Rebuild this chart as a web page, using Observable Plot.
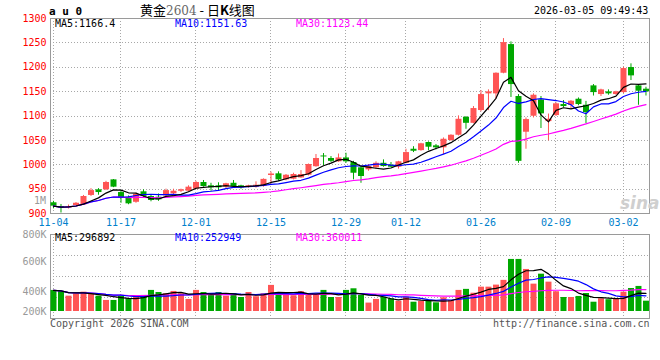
<!DOCTYPE html>
<html><head><meta charset="utf-8">
<script src="https://cdn.jsdelivr.net/npm/d3@7"></script>
<script src="https://cdn.jsdelivr.net/npm/@observablehq/plot@0.6"></script>
<style>
body{margin:0;background:#fff;}
#wrap{position:relative;width:660px;height:360px;overflow:hidden;font-family:"DejaVu Sans Mono",monospace;font-size:10px;}
#wrap svg{position:absolute;left:0;top:0;}
.t{position:absolute;white-space:nowrap;line-height:10px;height:10px;}
</style></head><body><div id="wrap"></div>
<script>
// ---- data ----
const openP  = [922,914.4,911.3,916.4,917.8,937,948.6,948.6,969,943,933.4,923,944.5,934.9,933.4,936,940.4,945.7,945.7,950,
                963.6,956.8,956.8,954,962,956.8,954,954,955.4,978,981.4,969,970.3,973,978.5,996,1018,1012.8,1006,1014,
                1004.6,993.7,989.6,993.7,1003,999,995,1003,1031.8,1029,1045.6,1038.8,1034.7,1049.7,1060.5,1097.5,1085,1111.2,1145.4,1145.4,
                1187.7,1246.5,1140,1066.7,1099.5,1133,1088.5,1100.9,1123.5,1122,1134.4,1122,1161.8,1144,1149.5,1144,1148,1199.4,1161.8,1155];
const highP  = [925,918.5,917.4,922.5,937,951,951,966,969.7,947,936,941.6,948.6,937.5,940,950,949.8,950,956.8,966,
                967.7,962,963,962,967.7,958,958,965,971,985,985.5,980,982.6,988,1001.5,1021,1023,1016.8,1022,1023.6,
                1007,995,1000.5,1006,1010,1004.6,1007,1031.8,1037,1044,1047,1041.5,1055,1061.5,1100.3,1098.5,1119.4,1152.2,1153.6,1188.5,
                1258.8,1252,1144,1096,1145.4,1140,1104,1127,1131.7,1131.7,1137,1130,1164.5,1155,1153.6,1150.8,1200,1207,1164.5,1159];
const lowP   = [909.6,901,909.2,915.8,916.4,935,937.5,947,953,921,918,921,932,924,925,934,939,943,944,949,
                954,945.7,946,951,954,950,952,952,954,960,966,967,969,972,977,995,998,1004.6,1005,1003,
                969,962,986.7,991,995,993.7,991,1002,1025,1027.7,1029,1030.5,1021,1048,1059,1072.8,1084,1108.5,1111,1134.4,
                1186.6,1138,1003,1031.8,1096,1074.3,1049,1099,1116.7,1113.9,1121,1084,1141,1140,1142.6,1142.6,1146,1172.7,1122,1141];
const closeP = [915,911.3,914.4,921,934.9,947,943,963.6,954,932,919.8,939,935,926.7,928,947,945.7,948.6,954,963.6,
                955.4,952.7,952.7,961,955.4,952.7,956.8,958,970,981,969,978.5,980,980,1000.5,1012.8,1016,1007,1014,1006,
                982.6,975.9,996.4,1003,996.4,995,1006,1025,1027.7,1043,1036,1034.7,1052.3,1060.5,1093.3,1085,1115.3,1144,1149.5,1187.7,
                1250.6,1164.5,1007,1092.7,1142.6,1104.4,1093.3,1125,1119.4,1130.3,1123.5,1107,1148,1153.6,1145.4,1149.5,1197.3,1182.3,1150.8,1149.5];
const volume = [406800,400000,368000,384000,395000,380000,368000,339000,339000,366000,350500,361000,373000,407000,393000,384000,400000,384000,346000,407000,
                393000,378000,393000,368000,386000,359000,393000,364000,384000,441000,386000,382000,371000,398000,380000,380000,407000,359000,359000,407000,
                418000,373000,321000,346000,361000,350500,334000,361000,327000,332000,334000,323000,357000,339000,407000,414000,388000,429000,429000,443000,
                475000,617000,617000,549000,449500,517000,463000,398000,359000,359000,366000,386000,327000,350500,344000,348000,395000,420000,434000,334000];
const dateTickIdx    = [0, 9, 19, 29, 39, 47, 57, 67, 76];
const dateTickLabels = ["11-04","11-17","12-01","12-15","12-29","01-12","01-26","02-09","03-02"];
const priceTicks = [900, 950, 1000, 1050, 1100, 1150, 1200, 1250, 1300];
const volTicks   = [800000, 600000, 400000, 200000];

// ---- table ----
const RED = "#ff5555", GREEN = "#00a800", GRID = "#a8a8a8", BORDER = "#9a9a9a";
const rows = closeP.map((c, i) => ({i, open: openP[i], high: highP[i], low: lowP[i], close: c, vol: volume[i],
  color: c >= openP[i] ? RED : GREEN}));

const W = 660, H = 360, ML = 50, MR = 11;
const xDomain = [-0.4, 79.47];
const baseStyle = {fontFamily: "DejaVu Sans Mono, monospace", fontSize: "10px", background: "transparent", overflow: "visible"};
const dotted = {stroke: GRID, strokeOpacity: 1, strokeDasharray: "1,2", shapeRendering: "crispEdges"};
const frameOpts = {stroke: BORDER, strokeWidth: 1.5, shapeRendering: "crispEdges"};
const tickFmt = d => dateTickLabels[dateTickIdx.indexOf(d)];

// volume quarter grid (behind)
const volGrid = Plot.plot({
  width: W, height: H, marginTop: 234, marginBottom: 42, marginLeft: ML, marginRight: MR,
  style: baseStyle, x: {domain: xDomain, axis: null, label: null}, y: {domain: [0, 4], axis: null, label: null},
  marks: [Plot.gridY([1, 2, 3], dotted)]
});

// price panel
const main = Plot.plot({
  width: W, height: H, marginTop: 18, marginBottom: 147, marginLeft: ML, marginRight: MR,
  style: baseStyle, color: {type: "identity"},
  x: {domain: xDomain, axis: null, label: null}, y: {domain: [900, 1300], axis: null, label: null},
  marks: [
    Plot.gridY(priceTicks, dotted),
    Plot.gridX(dateTickIdx, dotted),
    Plot.frame(frameOpts),
    Plot.axisY(priceTicks, {tickSize: 0, tickPadding: 4, color: "#ff0000", fontSize: 10, label: null, tickFormat: d => String(d)}),
    Plot.axisX(dateTickIdx, {tickSize: 0, tickPadding: 5, color: "#0080cc", fontSize: 10, label: null, tickFormat: tickFmt}),
    Plot.ruleX(rows, {x: "i", y1: "low", y2: "high", stroke: "color", strokeWidth: 1}),
    Plot.ruleX(rows, {x: "i", y1: "open", y2: "close", stroke: "color", strokeWidth: 6}),
    Plot.lineY(rows, Plot.windowY({k: 30, anchor: "end", reduce: "mean"}, {x: "i", y: "close", stroke: "#ff00ff", strokeWidth: 1.2})),
    Plot.lineY(rows, Plot.windowY({k: 10, anchor: "end", reduce: "mean"}, {x: "i", y: "close", stroke: "#0000ff", strokeWidth: 1.2})),
    Plot.lineY(rows, Plot.windowY({k: 5, anchor: "end", reduce: "mean"}, {x: "i", y: "close", stroke: "#000000", strokeWidth: 1.2}))
  ]
});

// volume panel
const vol = Plot.plot({
  width: W, height: H, marginTop: 234, marginBottom: 42, marginLeft: ML, marginRight: MR,
  style: baseStyle, color: {type: "identity"},
  x: {domain: xDomain, axis: null, label: null},
  y: {domain: [264000, 786000], range: [311, 234], clamp: true, axis: null, label: null},
  marks: [
    Plot.gridX(dateTickIdx, dotted),
    Plot.frame(frameOpts),
    Plot.axisY(volTicks, {tickSize: 0, tickPadding: 4, color: "#999", fontSize: 10, label: null, tickFormat: d => d / 1000 + "K"}),
    Plot.ruleX(rows, {x: "i", y1: () => 0, y2: "vol", stroke: "color", strokeWidth: 6}),
    Plot.lineY(rows, Plot.windowY({k: 30, anchor: "end", reduce: "mean"}, {x: "i", y: "vol", stroke: "#ff00ff", strokeWidth: 1.2})),
    Plot.lineY(rows, Plot.windowY({k: 10, anchor: "end", reduce: "mean"}, {x: "i", y: "vol", stroke: "#0000ff", strokeWidth: 1.2})),
    Plot.lineY(rows, Plot.windowY({k: 5, anchor: "end", reduce: "mean"}, {x: "i", y: "vol", stroke: "#000000", strokeWidth: 1.2}))
  ]
});

const wrap = document.getElementById("wrap");
wrap.append(volGrid, main, vol);

// ---- text labels ----
function label(txt, left, top, css) {
  const d = document.createElement("div");
  d.className = "t"; d.textContent = txt;
  d.style.left = left + "px"; d.style.top = top + "px";
  Object.assign(d.style, css || {});
  wrap.appendChild(d); return d;
}
label("a u 0", 49, 7, {fontWeight: "bold", fontSize: "11px", color: "#000"});
const title = document.createElement("div");
title.className = "t";
title.style.left = "140px"; title.style.top = "3px"; title.style.height = "14px"; title.style.lineHeight = "14px";
title.style.fontFamily = '"Noto Sans CJK SC", sans-serif'; title.style.fontSize = "13px";
title.innerHTML = '黄金<span style="color:#666;font-family:\'DejaVu Serif\',serif;font-size:12px">2604</span> - 日<b>K</b>线图';
wrap.appendChild(title);
label("2026-03-05 09:49:43", 534, 6, {color: "#000"});
label("MA5:1166.4", 55, 19, {color: "#000"});
label("MA10:1151.63", 175, 19, {color: "#0000ff"});
label("MA30:1123.44", 296, 19, {color: "#ff00ff"});
label("1M", 34, 196, {color: "#999"});
label("MA5:296892", 55, 233, {color: "#000"});
label("MA10:252949", 175, 233, {color: "#0000ff"});
label("MA30:360011", 296, 233, {color: "#ff00ff"});
label("Copyright 2026 SINA.COM", 50, 319, {color: "#555"});
label("http://finance.sina.com.cn", 493, 319, {color: "#555"});
label("sina", 620, 194, {color: "#cfcfcf", fontFamily: "'DejaVu Sans', sans-serif", fontWeight: "bold", fontStyle: "italic", fontSize: "17px", height: "18px", lineHeight: "18px"});
</script></body></html>
